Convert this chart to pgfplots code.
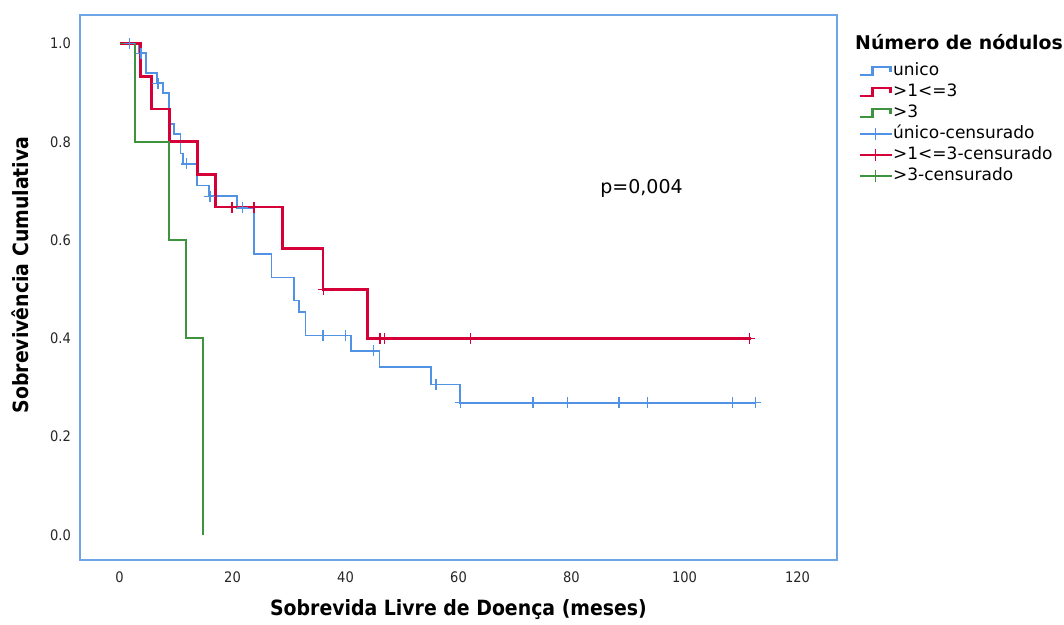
\documentclass[border=0pt]{standalone}
\usepackage{pgfplots}
\pgfplotsset{compat=1.18}
\usepackage{fontspec}
\setmainfont{DejaVu Sans}
\newfontfamily\condfont{DejaVu Sans Condensed}
\definecolor{frameblue}{RGB}{110,165,230}
\definecolor{kmblue}{RGB}{82,146,228}
\definecolor{kmred}{RGB}{214,0,56}
\definecolor{kmgreen}{RGB}{62,148,62}
\pgfplotsset{
  legblue/.style={legend image code/.code={\draw[kmblue,line width=2.8pt] (0pt,-4pt) -- (13pt,-4pt) -- (13pt,4pt) -- (31pt,4pt) -- (31pt,-1pt);}},
  legred/.style={legend image code/.code={\draw[kmred,line width=2.8pt] (0pt,-4pt) -- (13pt,-4pt) -- (13pt,4pt) -- (31pt,4pt) -- (31pt,-1pt);}},
  leggreen/.style={legend image code/.code={\draw[kmgreen,line width=2.8pt] (0pt,-4pt) -- (13pt,-4pt) -- (13pt,4pt) -- (31pt,4pt) -- (31pt,-1pt);}},
  legcblue/.style={legend image code/.code={\draw[kmblue,line width=1.2pt] (0pt,0pt) -- (32pt,0pt); \draw[kmblue,line width=1.2pt] (16pt,-6pt) -- (16pt,6pt);}},
  legcred/.style={legend image code/.code={\draw[kmred,line width=1.2pt] (0pt,0pt) -- (32pt,0pt); \draw[kmred,line width=1.2pt] (16pt,-6pt) -- (16pt,6pt);}},
  legcgreen/.style={legend image code/.code={\draw[kmgreen,line width=1.2pt] (0pt,0pt) -- (32pt,0pt); \draw[kmgreen,line width=1.2pt] (16pt,-6pt) -- (16pt,6pt);}},
}
\begin{document}
\begin{tikzpicture}
\path[use as bounding box] (0pt,0pt) rectangle (1064pt,624pt);
\begin{axis}[
  at={(80pt,64pt)}, anchor=south west,
  scale only axis, width=757pt, height=545pt,
  xmin=-7, xmax=127, ymin=-0.051, ymax=1.058,
  axis line style={frameblue, line width=2pt},
  xtick={0,20,...,120}, ytick={0,0.2,0.4,0.6,0.8,1.0},
  major tick length=0pt,
  /pgf/number format/assume math mode=true,
  yticklabel style={/pgf/number format/fixed, /pgf/number format/fixed zerofill, /pgf/number format/precision=1},
  tick label style={font=\condfont\fontsize{14.5}{14.5}\selectfont, text=black!85},
  xticklabel style={anchor=north, inner sep=0pt, yshift=-12pt},
  yticklabel style={anchor=east, inner sep=0pt, xshift=-9pt},
  xlabel={Sobrevida Livre de Doença (meses)},
  ylabel={Sobrevivência Cumulativa},
  every axis x label/.style={at={(axis description cs:0.5,-0.0917)}, anchor=center, font=\condfont\bfseries\fontsize{21}{21}\selectfont},
  every axis y label/.style={at={(axis description cs:-0.0793,0.523)}, anchor=center, rotate=90, font=\condfont\bfseries\fontsize{21}{21}\selectfont},
  legend style={at={(axis description cs:1.0277,0.914)}, anchor=north west, draw=none, fill=none,
    inner sep=0pt, row sep=3pt, font=\fontsize{17}{18}\selectfont,
    nodes={inner sep=1pt, text height=12pt, text depth=4pt, anchor=west}},
  legend cell align=left,
  clip=false,
]
% unico
\addplot[kmblue, line width=1.8pt, const plot, forget plot] coordinates {
(0,1) (3.5,0.980) (4.7,0.940) (6.7,0.919) (7.7,0.899) (8.7,0.836) (9.7,0.816)
(10.8,0.776) (11.3,0.755) (13.7,0.711) (15.8,0.689) (20.8,0.666) (23.8,0.572)
(26.9,0.524) (30.9,0.477) (31.8,0.453) (32.9,0.406) (40.9,0.375) (46.0,0.341)
(55.1,0.306) (60.2,0.269) (112.6,0.269)};
% >1<=3
\addplot[kmred, line width=2.7pt, const plot, forget plot] coordinates {
(0,1) (3.7,0.933) (5.7,0.867) (8.9,0.800) (13.8,0.733) (17.0,0.667)
(28.8,0.583) (36.0,0.500) (43.9,0.400) (111.7,0.400)};
% >3
\addplot[kmgreen, line width=1.8pt, const plot, forget plot] coordinates {
(0,1) (2.7,0.8) (8.8,0.6) (11.8,0.4) (14.8,0.0)};
% censored unico
\addplot[kmblue, only marks, mark=+, mark size=5.5pt, line width=1.2pt, mark options={kmblue}, forget plot] coordinates {
(1.7,1.0) (3.8,0.980) (6.8,0.919) (11.9,0.755) (16.0,0.689) (21.8,0.666)
(36.0,0.406) (40.0,0.406) (45.0,0.375) (56.0,0.306) (60.4,0.269) (73.2,0.269)
(79.3,0.269) (88.4,0.269) (93.4,0.269) (108.5,0.269) (112.6,0.269)};
% censored >1<=3
\addplot[kmred, only marks, mark=+, mark size=5.5pt, line width=1.3pt, mark options={kmred}, forget plot] coordinates {
(19.9,0.667) (23.8,0.667) (36.1,0.500) (46.1,0.400) (46.9,0.400) (62.1,0.400) (111.5,0.400)};
\addlegendimage{legblue}\addlegendentry{unico}
\addlegendimage{legred}\addlegendentry{>1<=3}
\addlegendimage{leggreen}\addlegendentry{>3}
\addlegendimage{legcblue}\addlegendentry{único-censurado}
\addlegendimage{legcred}\addlegendentry{>1<=3-censurado}
\addlegendimage{legcgreen}\addlegendentry{>3-censurado}
\node[font=\fontsize{19}{19}\selectfont, anchor=center] at (axis cs:92.4,0.706) {p=0,004};
\end{axis}
\node[anchor=west, font=\bfseries\fontsize{18.9}{19}\selectfont, inner sep=0pt] at (855pt,582pt) {Número de nódulos};
\end{tikzpicture}
\end{document}
